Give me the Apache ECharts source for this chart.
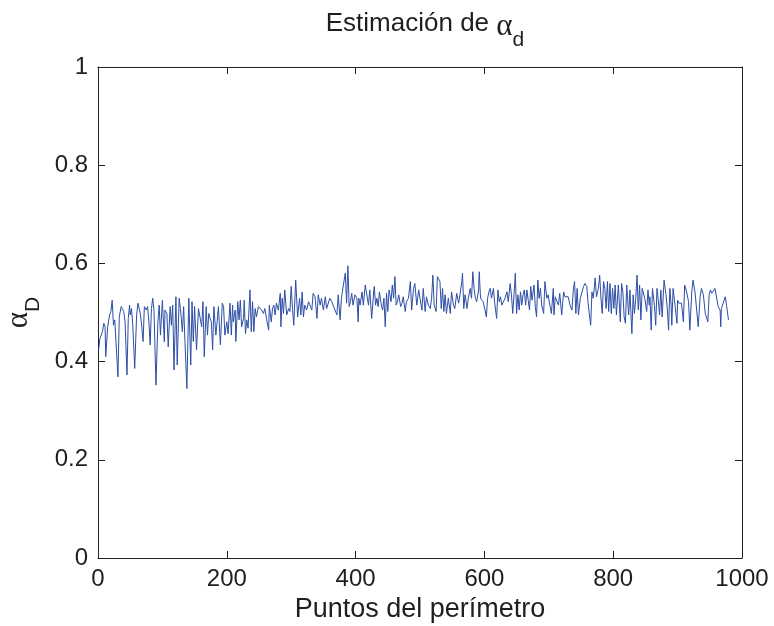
<!DOCTYPE html>
<html>
<head>
<meta charset="utf-8">
<title>Estimación de alpha_d</title>
<script src="https://cdn.jsdelivr.net/npm/echarts@6/dist/echarts.min.js"></script>
<style>
  html, body { margin: 0; padding: 0; background: #fff; }
  #chart { width: 774px; height: 626px; }
</style>
</head>
<body>
<div id="chart"></div>
<script>
// Perimeter point index of each sample
const pointIndex = [
  1,3,5,7,9,11,12,15,17,18,20,22,24,26,28,31,33,36,38,40,42,45,47,49,50,52,54,57,60,62,64,66,68,70,72,75,77,79,81,83,85,87,90,93,95,97,100,103,
  104,107,109,112,114,116,118,121,123,126,128,131,133,135,138,141,144,146,148,150,153,156,158,161,163,165,168,170,172,174,176,178,180,183,185,187,190,193,195,197,200,202,
  205,207,209,210,213,214,217,219,221,223,226,227,229,231,233,236,238,240,242,244,246,249,252,254,257,259,262,265,266,269,271,273,275,277,280,283,284,286,288,290,293,296,298,300,302,304,
  307,310,313,315,317,319,321,324,327,329,332,334,337,340,342,345,347,350,353,355,358,360,363,365,368,371,373,376,378,381,384,386,388,390,392,394,396,399,402,404,
  405,407,410,412,415,417,420,422,425,428,429,431,433,435,437,440,442,444,446,448,450,452,455,457,459,461,463,465,467,470,472,474,477,479,482,485,487,490,492,495,498,500,503,505,
  508,510,513,516,518,520,522,525,527,529,531,533,535,537,539,541,544,547,549,552,554,557,560,562,565,566,568,570,573,575,578,580,582,584,586,588,591,592,594,596,598,601,603,605,607,
  609,611,614,616,619,621,623,625,627,629,632,635,637,640,642,644,647,648,650,652,654,656,658,660,662,664,666,668,670,672,674,677,679,681,683,685,687,689,692,694,697,699,702,704,707,
  708,710,712,715,717,720,723,725,728,730,733,736,738,740,742,744,746,749,751,754,756,759,761,763,765,767,769,772,774,777,779,781,783,785,787,789,791,793,795,797,799,801,803,805,808,
  811,813,815,817,819,821,824,826,828,829,831,833,835,837,839,841,843,845,847,849,852,854,856,857,859,861,864,866,868,870,872,874,876,879,882,884,886,888,890,891,893,896,899,900,902,904,906,909,911,
  914,917,919,922,924,927,930,932,935,937,940,943,945,947,949,951,953,956,958,961,963,966,967,968,971,974,976,979
];

// Estimated alpha_D at each point
const alphaD = [
  0.424,0.447,0.454,0.461,0.478,0.471,0.410,0.471,0.468,0.495,0.502,0.525,0.474,0.485,0.481,0.369,0.491,0.512,0.515,0.502,0.481,0.373,0.488,0.515,0.495,0.508,0.474,0.386,0.495,0.519,0.508,0.495,0.471,0.441,0.512,0.505,0.512,0.481,0.434,0.508,0.529,0.502,0.352,0.481,0.515,0.454,0.525,0.440,
  0.505,0.498,0.430,0.512,0.474,0.515,0.383,0.532,0.393,0.529,0.508,0.461,0.512,0.441,0.345,0.529,0.393,0.522,0.441,0.512,0.424,0.508,0.508,0.471,0.522,0.410,0.512,0.454,0.498,0.488,0.481,0.424,0.512,0.454,0.481,0.512,0.434,0.519,0.512,0.454,0.481,0.457,
  0.519,0.454,0.515,0.481,0.505,0.441,0.522,0.485,0.525,0.471,0.488,0.525,0.457,0.485,0.468,0.546,0.461,0.522,0.461,0.508,0.491,0.512,0.515,0.505,0.498,0.508,0.485,0.464,0.515,0.481,0.508,0.515,0.495,0.519,0.505,0.539,0.471,0.529,0.498,0.546,0.495,0.508,0.502,0.553,0.508,0.474,
  0.566,0.491,0.529,0.495,0.542,0.491,0.515,0.505,0.522,0.515,0.505,0.539,0.532,0.488,0.536,0.515,0.529,0.505,0.532,0.508,0.505,0.529,0.522,0.525,0.505,0.495,0.536,0.485,0.529,0.556,0.580,0.519,0.595,0.512,0.522,0.539,0.515,0.536,0.529,0.481,
  0.529,0.515,0.542,0.515,0.556,0.553,0.515,0.546,0.488,0.542,0.553,0.515,0.529,0.512,0.542,0.515,0.505,0.529,0.471,0.539,0.502,0.546,0.522,0.556,0.529,0.573,0.515,0.522,0.536,0.512,0.519,0.532,0.502,0.522,0.529,0.563,0.505,0.549,0.559,0.515,0.546,0.529,0.505,0.549,
  0.502,0.532,0.515,0.508,0.529,0.576,0.515,0.502,0.573,0.576,0.563,0.508,0.549,0.502,0.536,0.498,0.529,0.498,0.542,0.515,0.508,0.539,0.519,0.536,0.563,0.580,0.508,0.536,0.508,0.529,0.549,0.529,0.583,0.549,0.529,0.522,0.546,0.583,0.529,0.525,0.522,0.505,0.491,0.529,0.542,
  0.549,0.529,0.549,0.519,0.488,0.546,0.522,0.532,0.515,0.512,0.529,0.542,0.522,0.559,0.536,0.498,0.556,0.580,0.498,0.536,0.505,0.542,0.515,0.536,0.546,0.515,0.546,0.525,0.505,0.553,0.525,0.556,0.512,0.491,0.566,0.529,0.549,0.515,0.498,0.563,0.529,0.536,0.512,0.498,0.549,
  0.495,0.532,0.529,0.515,0.539,0.495,0.542,0.532,0.536,0.532,0.515,0.505,0.546,0.563,0.498,0.549,0.495,0.529,0.532,0.553,0.559,0.553,0.519,0.515,0.474,0.542,0.529,0.570,0.532,0.549,0.576,0.529,0.498,0.563,0.549,0.508,0.563,0.502,0.559,0.498,0.549,0.508,0.556,0.495,0.556,
  0.481,0.559,0.542,0.491,0.478,0.556,0.495,0.546,0.485,0.457,0.536,0.498,0.529,0.576,0.505,0.556,0.485,0.549,0.553,0.529,0.502,0.546,0.515,0.532,0.464,0.549,0.515,0.474,0.549,0.525,0.495,0.546,0.491,0.566,0.536,0.508,0.464,0.549,0.515,0.474,0.549,0.515,0.478,0.525,0.519,0.519,0.519,0.481,0.556,
  0.542,0.522,0.464,0.542,0.566,0.542,0.539,0.471,0.532,0.549,0.536,0.498,0.498,0.481,0.536,0.546,0.539,0.542,0.549,0.553,0.512,0.505,0.471,0.508,0.508,0.532,0.515,0.485
];

const xTicks = { min: 0, max: 1000, step: 200 };
const yTicks = { min: 0, max: 1, step: 0.2 };

const INK = '#1f1f1f';
const SANS = '"Liberation Sans", Arial, Helvetica, sans-serif';
const SERIF = '"Liberation Serif", "Times New Roman", serif';

const chart = echarts.init(document.getElementById('chart'), null, { renderer: 'canvas' });

const frameAxis = (extra) => Object.assign({
  type: 'value',
  axisLine: { show: true, onZero: false, lineStyle: { color: INK, width: 1 } },
  axisTick: { show: true, inside: true, length: 7, lineStyle: { color: INK, width: 1 } },
  splitLine: { show: false },
  axisLabel: { show: false }
}, extra);

const labelStyle = { color: INK, fontSize: 24, fontFamily: SANS };

// Greek symbol with a lowered subscript: the subscript token has a taller line box
// and sits at the bottom of the line, so its glyphs drop below the main baseline.
const symbolRich = {
  t: { fontSize: 26, fontWeight: 'normal', fontFamily: SANS, color: INK, lineHeight: 32, verticalAlign: 'top' },
  a: { fontSize: 31, fontWeight: 'normal', fontFamily: SERIF, color: INK, lineHeight: 32, verticalAlign: 'top' },
  s: { fontSize: 21, fontWeight: 'normal', fontFamily: SANS, color: INK, lineHeight: 40, verticalAlign: 'bottom' }
};

chart.setOption({
  animation: false,
  backgroundColor: '#ffffff',
  title: {
    text: '{t|Estimación de }{a|α}{s|d}',
    left: 420,
    top: 6,
    textAlign: 'center',
    textStyle: { fontWeight: 'normal', rich: symbolRich }
  },
  grid: { left: 98, right: 32, top: 67, bottom: 68, outerBoundsMode: 'none', containLabel: false },
  xAxis: [
    frameAxis({
      position: 'bottom',
      min: xTicks.min, max: xTicks.max, interval: xTicks.step,
      axisLabel: Object.assign({ show: true, margin: 9, formatter: (v) => String(v) }, labelStyle),
      name: 'Puntos del perímetro',
      nameLocation: 'middle',
      nameGap: 33,
      nameTextStyle: { color: INK, fontSize: 27, fontFamily: SANS }
    }),
    frameAxis({ position: 'top', min: xTicks.min, max: xTicks.max, interval: xTicks.step })
  ],
  yAxis: [
    frameAxis({
      position: 'left',
      min: yTicks.min, max: yTicks.max, interval: yTicks.step,
      axisLabel: Object.assign({ show: true, margin: 10, formatter: (v) => String(v) }, labelStyle),
      name: '{a|α}{s|D}',
      nameLocation: 'middle',
      nameRotate: 90,
      nameGap: 52,
      nameTextStyle: { rich: symbolRich }
    }),
    frameAxis({ position: 'right', min: yTicks.min, max: yTicks.max, interval: yTicks.step })
  ],
  series: [{
    type: 'line',
    xAxisIndex: 0,
    yAxisIndex: 0,
    data: pointIndex.map((p, i) => [p, alphaD[i]]),
    showSymbol: false,
    symbol: 'none',
    lineStyle: { color: '#2d4ea6', width: 1 },
    silent: true
  }]
});
</script>
</body>
</html>
